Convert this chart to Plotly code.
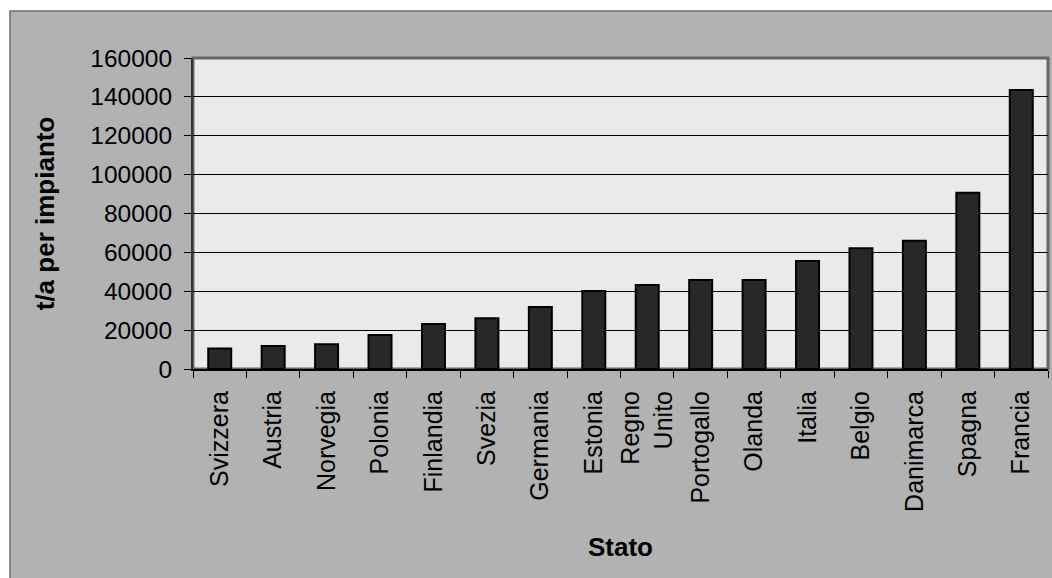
import plotly.graph_objects as go

categories = ["Svizzera", "Austria", "Norvegia", "Polonia", "Finlandia", "Svezia",
              "Germania", "Estonia", "Regno<br>Unito", "Portogallo", "Olanda", "Italia",
              "Belgio", "Danimarca", "Spagna", "Francia"]
values = [10600, 11800, 12700, 17500, 23100, 26100, 31900, 40100, 43200, 45800,
          45800, 55600, 62100, 66000, 90700, 143500]
y_ticks = [0, 20000, 40000, 60000, 80000, 100000, 120000, 140000, 160000]

FONT = "Liberation Sans, Arial, sans-serif"

fig = go.Figure()
fig.add_trace(go.Bar(
    x=categories, y=values,
    width=0.43,
    marker=dict(color="#282828", line=dict(color="#000000", width=2)),
))

W, H = 1052, 578
L, R, T, B = 193, 4, 58, 209
pw, ph = W - L - R, H - T - B

def px_x(x):
    return (x - L) / pw

def px_y(y):
    return (H - B - y) / ph

fig.update_layout(
    width=W, height=H,
    margin=dict(l=L, r=R, t=T, b=B, pad=0),
    paper_bgcolor="#ffffff",
    plot_bgcolor="rgba(0,0,0,0)",
    showlegend=False,
    font=dict(family=FONT, size=24, color="#000000"),
    shapes=[
        dict(type="rect", xref="paper", yref="paper", layer="below",
             x0=px_x(10), x1=px_x(1070), y0=px_y(600), y1=px_y(11),
             fillcolor="#B2B2B2", line=dict(color="#6e6e6e", width=1.5)),
        dict(type="rect", xref="paper", yref="paper", layer="below",
             x0=0, x1=1, y0=0, y1=1,
             fillcolor="#EAEAEA", line=dict(color="#666666", width=3)),
    ],
    xaxis=dict(
        type="category",
        tickangle=-90,
        tickson="boundaries",
        ticks="outside", ticklen=7, tickwidth=1, tickcolor="#000000",
        ticklabelstandoff=10,
        showline=True, linecolor="#000000", linewidth=2,
        showgrid=False,
        tickfont=dict(family=FONT, size=25, color="#000000"),
        title=dict(text="<b>Stato</b>", font=dict(family=FONT, size=26, color="#000000"),
                   standoff=27),
    ),
    yaxis=dict(
        range=[0, 160000],
        tickvals=y_ticks,
        ticktext=[str(v) for v in y_ticks],
        ticks="outside", ticklen=7, tickwidth=1, tickcolor="#000000",
        ticklabelstandoff=7,
        showline=True, linecolor="#333333", linewidth=2,
        showgrid=True, gridcolor="#000000", gridwidth=1,
        zeroline=False,
        tickfont=dict(family=FONT, size=24.5, color="#000000"),
        title=dict(text="<b>t/a per impianto</b>", font=dict(family=FONT, size=26, color="#000000"),
                   standoff=28),
    ),
)

fig.write_html("out.html")
